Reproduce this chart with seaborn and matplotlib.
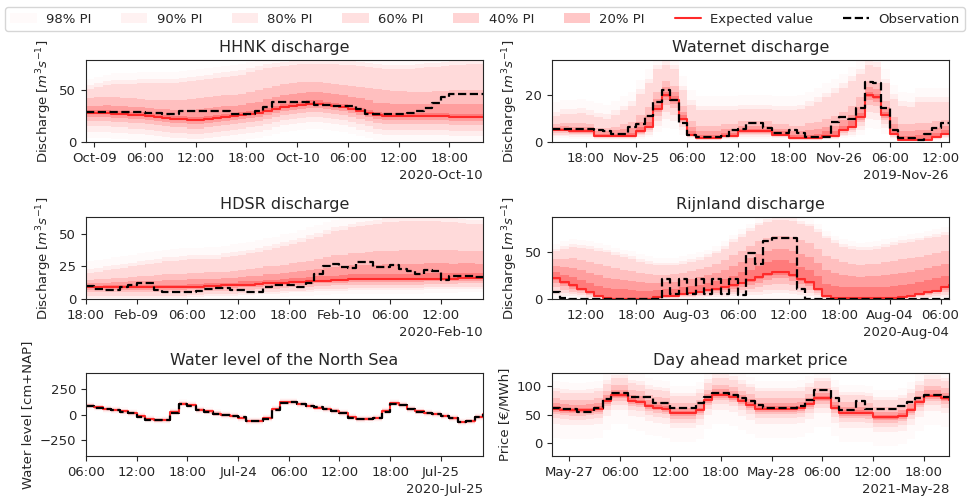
import matplotlib
matplotlib.use("Agg")
import matplotlib.pyplot as plt
import matplotlib.dates as mdates
import pandas as pd
import seaborn as sns

sns.set_style("ticks")
plt.rcParams['font.family'] = ['DejaVu Sans']

# =========================================================================
# DATI (un valore per ora)
# =========================================================================
PI_LABELS = ['98% PI', '90% PI', '80% PI', '60% PI', '40% PI', '20% PI']
PI_ALPHAS = [0.02, 0.05, 0.08, 0.12, 0.17, 0.22]

# --- HHNK discharge
hhnk_start = '2020-10-08 23:00'
hhnk_obs = [29,29,29,29,29,29,29,28,28,27,27,30,30,30,30,30,30,27,27,27,30,34,39,39,39,39,39,36,36,35,35,35,32,27,27,27,27,27,28,30,33,38,43,46,46,46,46,46]
hhnk_mean = [28,28,28,27,27,26,26,25,24,23,22,22,21,21,22,23,24,25,26,27,28,30,32,34,35,36,37,37,36,35,34,32,30,28,26,25,25,25,25,25,25,25,25,24,24,24,24,24]
hhnk_hi = [
    [61,63,65,66,66,66,67,67,67,67,67,68,69,70,71,72,73,74,75,77,79,81,82,83,84,85,85,85,85,85,84,84,83,82,81,80,80,80,80,81,82,82,83,84,84,85,85,85],
    [55,57,59,60,60,60,61,61,61,61,61,62,63,64,65,66,67,68,69,71,73,75,76,77,78,79,79,79,79,79,78,78,77,76,75,74,74,74,74,75,76,76,77,78,78,79,79,79],
    [51,53,55,56,56,56,57,57,57,57,57,58,59,60,61,62,63,64,65,67,69,71,72,73,74,75,75,75,75,75,74,74,73,72,71,70,70,70,70,71,72,72,73,74,74,75,75,75],
    [42,43,43,43,42,42,41,40,40,40,40,40,41,42,43,44,45,45,46,48,50,52,54,56,57,58,58,58,57,56,55,54,53,52,51,50,49,49,48,48,48,49,49,50,50,50,50,50],
    [35,35,36,35,35,34,34,33,32,32,31,31,31,32,33,34,35,35,36,38,39,41,43,45,46,47,48,48,47,46,45,43,42,40,38,38,37,37,37,37,37,37,37,37,37,37,37,37],
    [31,31,31,30,30,29,29,28,27,26,25,25,24,24,25,26,27,28,29,30,31,33,35,37,38,39,40,40,39,38,37,35,33,31,29,28,28,28,28,28,28,28,28,27,27,27,27,27],
]
hhnk_lo = [
    [4,4,4,3,3,2,2,1,0,0,0,0,0,0,0,0,0,1,2,3,4,6,8,10,11,12,13,13,12,11,10,8,6,4,2,1,1,1,1,1,1,1,1,0,0,0,0,0],
    [10,10,10,9,9,8,8,7,6,5,4,4,3,3,4,5,6,7,8,9,10,12,14,16,17,18,19,19,18,17,16,14,12,10,8,7,7,7,7,7,7,7,7,6,6,6,6,6],
    [15,15,15,14,14,13,13,12,11,10,9,9,8,8,9,10,11,12,13,14,15,17,19,21,22,23,24,24,23,22,21,19,17,15,13,12,12,12,12,12,12,12,12,11,11,11,11,11],
    [20,20,20,19,19,18,18,17,16,15,14,14,13,13,14,15,16,17,18,19,20,22,24,26,27,28,29,29,28,27,26,24,22,20,18,17,17,17,17,17,17,17,17,16,16,16,16,16],
    [24,24,24,23,23,22,22,21,20,19,18,18,17,17,18,19,20,21,22,23,24,26,28,30,31,32,33,33,32,31,30,28,26,24,22,21,21,21,21,21,21,21,21,20,20,20,20,20],
    [27,27,27,26,26,25,25,24,23,22,21,21,20,20,21,22,23,24,25,26,27,29,31,33,34,35,36,36,35,34,33,31,29,27,25,24,24,24,24,24,24,24,24,23,23,23,23,23],
]

# --- Waternet discharge
wat_start = '2019-11-24 14:00'
wat_obs = [5.5,5.5,5.5,5.5,5.5,5,4.5,3.5,3.5,6.5,7.5,11,17,22,18,8,3,2,2,2,2.5,5,5.5,8,8,6,4,4,5,4,2,2,2,8.5,10.5,10,14.5,25.5,25,14.5,5,1.5,1.5,1,3.5,6,8,8]
wat_mean = [5,5,4.5,4.5,4.5,2.5,2.5,2.5,2.5,2.5,4.5,6.5,14,20,18,10,3,1.5,1.5,1.5,2.5,2.5,4.5,4.5,4.5,4.5,3,3,1.5,1.5,1.5,1.5,2.5,2.5,5,6.5,10.5,20,19,11.5,3.5,1,1,1,1,2,3.5,3.5]
wat_hi = [
    [17,18,18,18.5,17.5,16.5,16,17.5,19.5,21.5,26.5,31,37,39,37,28,22,19.5,19.5,19.5,19.5,19.5,20,20,20,20,19.5,19.5,19.5,20,21.5,23,25,27,29,32,35,39,38,31,24.5,21.5,21,23,23,23,23,23],
    [13,14,14,14.5,13.5,12.5,12,13.5,15.5,17.5,22.5,27,33,35,33,24,18,15.5,15.5,15.5,15.5,15.5,16,16,16,16,15.5,15.5,15.5,16,17.5,19,21,23,25,28,31,35,34,27,20.5,17.5,17,19,19,19,19,19],
    [11,12,12,12.5,11.5,10.5,10,11.5,13.5,15.5,20.5,25,31,33,31,22,16,13.5,13.5,13.5,13.5,13.5,14,14,14,14,13.5,13.5,13.5,14,15.5,17,19,21,23,26,29,33,32,25,18.5,15.5,15,17,17,17,17,17],
    [7.5,8,8,8,7.5,6,6,6.5,7.5,8.5,11.5,15,21.5,26,24,15.5,9,7,7,7,7.5,7.5,9,9,9,9,7.5,7.5,7,7,8,8.5,10,11,13,15.5,19,26,25,17.5,10.5,7.5,7.5,8,8,9,9.5,9.5],
    [6.5,7,6.5,6.5,6.5,4.5,4.5,5,5.5,6,8.5,11,18.5,23.5,21.5,13,6.5,4.5,4.5,4.5,5.5,5.5,7,7,7,7,5.5,5.5,4.5,4.5,5,5.5,6.5,7,9.5,11.5,15,23.5,22.5,15,7.5,4.5,4.5,5,5,6,7,7],
    [5.5,6,5.5,5.5,5.5,3.5,3.5,3.5,4,4,6.5,8.5,16,21.5,19.5,11.5,4.5,3,3,3,4,4,5.5,5.5,5.5,5.5,4.5,4.5,3,3,3,3.5,4.5,4.5,7,9,12.5,21.5,20.5,13,5.5,2.5,2.5,3,3,4,5,5],
]
wat_lo = [
    [1.5,1.5,1.3,1.3,1.3,0.8,0.8,0.8,0.8,0.8,1.3,2,4.2,6,5.4,3,0.9,0.5,0.5,0.5,0.8,0.8,1.3,1.3,1.3,1.3,0.9,0.9,0.5,0.5,0.5,0.5,0.8,0.8,1.5,2,3.2,6,5.7,3.5,1,0.3,0.3,0.3,0.3,0.6,1,1],
    [2.5,2.5,2.2,2.2,2.2,1.2,1.2,1.2,1.2,1.2,2.2,3.2,7,10,9,5,1.5,0.8,0.8,0.8,1.2,1.2,2.2,2.2,2.2,2.2,1.5,1.5,0.8,0.8,0.8,0.8,1.2,1.2,2.5,3.2,5.2,10,9.5,5.8,1.8,0.5,0.5,0.5,0.5,1,1.8,1.8],
    [3.2,3.2,2.9,2.9,2.9,1.6,1.6,1.6,1.6,1.6,2.9,4.2,9.1,13,11.7,6.5,2,1,1,1,1.6,1.6,2.9,2.9,2.9,2.9,2,2,1,1,1,1,1.6,1.6,3.2,4.2,6.8,13,12.4,7.5,2.3,0.6,0.6,0.6,0.6,1.3,2.3,2.3],
    [4,4,3.6,3.6,3.6,2,2,2,2,2,3.6,5.2,11.2,16,14.4,8,2.4,1.2,1.2,1.2,2,2,3.6,3.6,3.6,3.6,2.4,2.4,1.2,1.2,1.2,1.2,2,2,4,5.2,8.4,16,15.2,9.2,2.8,0.8,0.8,0.8,0.8,1.6,2.8,2.8],
    [4.5,4.5,4,4,4,2.2,2.2,2.2,2.2,2.2,4,5.8,12.6,18,16.2,9,2.7,1.3,1.3,1.3,2.2,2.2,4,4,4,4,2.7,2.7,1.3,1.3,1.3,1.3,2.2,2.2,4.5,5.8,9.4,18,17.1,10.3,3.1,0.9,0.9,0.9,0.9,1.8,3.1,3.1],
    [4.8,4.8,4.4,4.4,4.4,2.4,2.4,2.4,2.4,2.4,4.4,6.3,13.6,19.4,17.5,9.7,2.9,1.5,1.5,1.5,2.4,2.4,4.4,4.4,4.4,4.4,2.9,2.9,1.5,1.5,1.5,1.5,2.4,2.4,4.8,6.3,10.2,19.4,18.4,11.2,3.4,1,1,1,1,1.9,3.4,3.4],
]

# --- HDSR discharge
hdsr_start = '2020-02-08 18:00'
hdsr_obs = [10,8,7,7,9,11,12,12,7,5.5,5.5,5.5,5.5,6.5,7.5,8.5,8.5,7,7,5.5,5.5,9.5,11,11,10.5,9.5,12,19.5,25.5,27,24.5,23.5,28.5,28.5,24.5,24.5,26,23,21.5,19.5,22,21.5,14.5,18,18,18,17,17]
hdsr_mean = [9,9,9,9,9,9,9,9,9,9,9,9,9.5,9.5,10,10,10.5,10.5,11,11,11.5,12,12,12.5,13,13,13.5,14,14,14.5,14.5,15,15,15,15,15,15,15,15,15,15.5,15.5,15.5,15.5,16,16,16,16]
hdsr_hi = [
    [29,30,31,32,33,34,35,36,37,38,38.5,39,39.5,39.5,40,40,41,42,43,44,45,47,48,50,51,53,55,57,59,61,62,64,65,66,67,68,68.5,69,69,69,69,69,68.5,68,67.5,67,66.5,66],
    [23,24,25,26,27,28,29,30,31,32,32.5,33,33.5,33.5,34,34,35,36,37,38,39,41,42,44,45,47,49,51,53,55,56,58,59,60,61,62,62.5,63,63,63,63,63,62.5,62,61.5,61,60.5,60],
    [20,21,22,23,24,25,26,27,28,29,29.5,30,30.5,30.5,31,31,32,33,34,35,36,38,39,41,42,44,46,48,50,52,53,55,56,57,58,59,59.5,60,60,60,60,60,59.5,59,58.5,58,57.5,57],
    [14.5,15,15.5,16,16.5,17,17.5,18,18.5,19,19.5,19.5,20,20,20.5,20.5,21,21.5,22.5,23,23.5,25,25.5,26.5,27.5,28.5,29.5,31,32,33.5,34,35,35.5,36,36.5,37,37,37.5,37.5,37.5,37.5,37.5,37.5,37.5,37,37,37,36.5],
    [12,12,12.5,13,13,13.5,13.5,14,14,14.5,14.5,14.5,15,15,15.5,15.5,16.5,16.5,17,17.5,18,19,19.5,20,21,21.5,22.5,23,23.5,24.5,25,26,26,26.5,26.5,27,27,27,27,27,27.5,27.5,27.5,27,27.5,27.5,27,27],
    [10,10,10.5,10.5,10.5,10.5,10.5,11,11,11,11,11,11.5,11.5,12,12,12.5,12.5,13.5,13.5,14,14.5,14.5,15.5,16,16,17,17.5,17.5,18,18.5,19,19,19,19.5,19.5,19.5,19.5,19.5,19.5,20,20,20,20,20,20,20,20],
]
hdsr_lo = [
    [0,0,0,0,0,0,0,0,0,0,0,0,0,0,0,0,0,0,0,0,0.5,1,1,1.5,2,2,2.5,3,3,3.5,3.5,4,4,4,4,4,4,4,4,4,4.5,4.5,4.5,4.5,5,5,5,5],
    [1,1,1,1,1,1,1,1,1,1,1,1,1.5,1.5,2,2,2.5,2.5,3,3,3.5,4,4,4.5,5,5,5.5,6,6,6.5,6.5,7,7,7,7,7,7,7,7,7,7.5,7.5,7.5,7.5,8,8,8,8],
    [2.5,2.5,2.5,2.5,2.5,2.5,2.5,2.5,2.5,2.5,2.5,2.5,3,3,3.5,3.5,4,4,4.5,4.5,5,5.5,5.5,6,6.5,6.5,7,7.5,7.5,8,8,8.5,8.5,8.5,8.5,8.5,8.5,8.5,8.5,8.5,9,9,9,9,9.5,9.5,9.5,9.5],
    [5,5,5,5,5,5,5,5,5,5,5,5,5.5,5.5,6,6,6.5,6.5,7,7,7.5,8,8,8.5,9,9,9.5,10,10,10.5,10.5,11,11,11,11,11,11,11,11,11,11.5,11.5,11.5,11.5,12,12,12,12],
    [7,7,7,7,7,7,7,7,7,7,7,7,7.5,7.5,8,8,8.5,8.5,9,9,9.5,10,10,10.5,11,11,11.5,12,12,12.5,12.5,13,13,13,13,13,13,13,13,13,13.5,13.5,13.5,13.5,14,14,14,14],
    [8.5,8.5,8.5,8.5,8.5,8.5,8.5,8.5,8.5,8.5,8.5,8.5,9,9,9.5,9.5,10,10,10.5,10.5,11,11.5,11.5,12,12.5,12.5,13,13.5,13.5,14,14,14.5,14.5,14.5,14.5,14.5,14.5,14.5,14.5,14.5,15,15,15,15,15.5,15.5,15.5,15.5],
]

# --- Rijnland discharge
rijn_start = '2020-08-02 08:00'
rijn_obs = [7,1,0,0,0,0,0,0,0,0,0,0,0,21,5,21,5,21,5,21,5,21,4,49,38,62,66,66,66,11,0,0,0,0,0,0,0,0,0,0,0,0,0,0,0,0,0,0]
rijn_mean = [22.5,18,14.5,11,7,3.5,1,0.5,0.5,0.5,0.5,0.5,2,3,3.5,5,6.5,8,9.5,11,12.5,14.5,17.5,20,23.5,27,29,29,26,21.5,18,11,3,1,1,1,1,1,1,1,1,2,3.5,5,7,9,12.5,15]
rijn_hi = [
    [59,62,64,63,62,60,58,55,53,51,48,46,44,44,44,46,48,50,53,57,62,69,75,81,87,91,93,93,92,89,86,80,73,68,64,62,60.5,61,62,64,66,68,69.5,71,73,75,77,80.5],
    [54,57,59,58,57,55,53,50,48,46,43,41,39,39,39,41,43,45,48,52,57,64,70,76,82,86,88,88,87,84,81,75,68,63,59,57,55.5,56,57,59,61,63,64.5,66,68,70,72,75.5],
    [51,54,56,55,54,52,50,47,45,43,40,38,36,36,36,38,40,42,45,49,54,61,67,73,79,83,85,85,84,81,78,72,65,60,56,54,52.5,53,54,56,58,60,61.5,63,65,67,69,72.5],
    [42.5,43,43.5,42,40,37.5,35.5,33,31.5,30.5,28,27,26,26,26.5,28,30,32,34.5,37.5,41.5,47,52,57,62.5,66,68,68,66.5,63,60,53.5,46.5,42.5,39.5,38,37,37.5,38,39.5,41,42.5,44,45.5,47.5,49.5,52,55.5],
    [35.5,34,33,31,28,25.5,23,21.5,20.5,19.5,18.5,17.5,17.5,18,18,20,21.5,23.5,25.5,28,31,35.5,40,44,48.5,52,54,54,52,48.5,45,38.5,31,27.5,26,25,24,24.5,25,26,26.5,28,29.5,31,33,35,38,41],
    [29,26,23.5,20.5,17.5,14,12,10.5,10.5,10,9,9,9.5,10.5,10.5,12.5,14,15.5,17.5,19.5,21.5,24.5,28.5,31.5,35.5,39.5,41.5,41.5,39,34.5,31,24.5,16.5,14,13,12.5,12.5,12.5,12.5,13,13.5,15,16.5,18,20,22,25,27.5],
]
rijn_lo = [
    [0,0,0,0,0,0,0,0,0,0,0,0,0,0,0,0,0,0,0,0,0,0,0,0,0,0,0,0,0,0,0,0,0,0,0,0,0,0,0,0,0,0,0,0,0,0,0,0],
    [4.5,3.5,3,2,1.5,0.5,0,0,0,0,0,0,0.5,0.5,0.5,1,1.5,1.5,2,2,2.5,3,3.5,4,4.5,5.5,6,6,5,4.5,3.5,2,0.5,0,0,0,0,0,0,0,0,0.5,0.5,1,1.5,2,2.5,3],
    [8,6.5,5,4,2.5,1,0.5,0,0,0,0,0,0.5,1,1,2,2.5,3,3.5,4,4.5,5,6,7,8,9.5,10,10,9,7.5,6.5,4,1,0.5,0.5,0.5,0.5,0.5,0.5,0.5,0.5,0.5,1,2,2.5,3,4.5,5.5],
    [12.5,10,8,6,4,2,0.5,0.5,0.5,0.5,0.5,0.5,1,1.5,2,3,3.5,4.5,5,6,7,8,9.5,11,13,15,16,16,14.5,12,10,6,1.5,0.5,0.5,0.5,0.5,0.5,0.5,0.5,0.5,1,2,3,4,5,7,8.5],
    [17,13.5,11,8.5,5.5,2.5,1,0.5,0.5,0.5,0.5,0.5,1.5,2.5,2.5,4,5,6,7,8.5,9.5,11,13,15,17.5,20.5,22,22,19.5,16,13.5,8.5,2.5,1,1,1,1,1,1,1,1,1.5,2.5,4,5.5,7,9.5,11.5],
    [20.5,16,13,10,6.5,3,1,0.5,0.5,0.5,0.5,0.5,2,2.5,3,4.5,6,7,8.5,10,11.5,13,16,18,21,24.5,26,26,23.5,19.5,16,10,2.5,1,1,1,1,1,1,1,1,2,3,4.5,6.5,8,11.5,13.5],
]

# --- Water level of the North Sea
ns_start = '2020-07-23 06:00'
ns_obs = [85,70,55,45,30,15,-20,-50,-55,-55,20,105,90,45,30,10,0,-10,-25,-60,-60,-40,50,120,128,110,85,72,56,40,22,-30,-38,-38,-35,30,110,92,55,30,20,7,-10,-30,-70,-65,-25,5]
ns_mean = [90,72,58,45,32,15,-15,-45,-55,-50,30,110,95,50,32,12,0,-12,-30,-60,-60,-35,55,122,125,108,85,70,55,40,20,-25,-40,-38,-30,40,112,95,55,32,18,5,-12,-35,-70,-65,-20,10]
ns_hi = [
    [130,112,98,85,72,55,25,-5,-15,-10,70,150,135,90,72,52,40,28,10,-20,-20,5,95,162,165,148,125,110,95,80,60,15,0,2,10,80,152,135,95,72,58,45,28,5,-30,-25,20,50],
    [118,100,86,73,60,43,13,-17,-27,-22,58,138,123,78,60,40,28,16,-2,-32,-32,-7,83,150,153,136,113,98,83,68,48,3,-12,-10,-2,68,140,123,83,60,46,33,16,-7,-42,-37,8,38],
    [110,92,78,65,52,35,5,-25,-35,-30,50,130,115,70,52,32,20,8,-10,-40,-40,-15,75,142,145,128,105,90,75,60,40,-5,-20,-18,-10,60,132,115,75,52,38,25,8,-15,-50,-45,0,30],
    [102,84,70,57,44,27,-3,-33,-43,-38,42,122,107,62,44,24,12,0,-18,-48,-48,-23,67,134,137,120,97,82,67,52,32,-13,-28,-26,-18,52,124,107,67,44,30,17,0,-23,-58,-53,-8,22],
    [97,79,65,52,39,22,-8,-38,-48,-43,37,117,102,57,39,19,7,-5,-23,-53,-53,-28,62,129,132,115,92,77,62,47,27,-18,-33,-31,-23,47,119,102,62,39,25,12,-5,-28,-63,-58,-13,17],
    [93,75,61,48,35,18,-12,-42,-52,-47,33,113,98,53,35,15,3,-9,-27,-57,-57,-32,58,125,128,111,88,73,58,43,23,-22,-37,-35,-27,43,115,98,58,35,21,8,-9,-32,-67,-62,-17,13],
]
ns_lo = [
    [50,32,18,5,-8,-25,-55,-85,-95,-90,-10,70,55,10,-8,-28,-40,-52,-70,-100,-100,-75,15,82,85,68,45,30,15,0,-20,-65,-80,-78,-70,0,72,55,15,-8,-22,-35,-52,-75,-110,-105,-60,-30],
    [62,44,30,17,4,-13,-43,-73,-83,-78,2,82,67,22,4,-16,-28,-40,-58,-88,-88,-63,27,94,97,80,57,42,27,12,-8,-53,-68,-66,-58,12,84,67,27,4,-10,-23,-40,-63,-98,-93,-48,-18],
    [70,52,38,25,12,-5,-35,-65,-75,-70,10,90,75,30,12,-8,-20,-32,-50,-80,-80,-55,35,102,105,88,65,50,35,20,0,-45,-60,-58,-50,20,92,75,35,12,-2,-15,-32,-55,-90,-85,-40,-10],
    [78,60,46,33,20,3,-27,-57,-67,-62,18,98,83,38,20,0,-12,-24,-42,-72,-72,-47,43,110,113,96,73,58,43,28,8,-37,-52,-50,-42,28,100,83,43,20,6,-7,-24,-47,-82,-77,-32,-2],
    [83,65,51,38,25,8,-22,-52,-62,-57,23,103,88,43,25,5,-7,-19,-37,-67,-67,-42,48,115,118,101,78,63,48,33,13,-32,-47,-45,-37,33,105,88,48,25,11,-2,-19,-42,-77,-72,-27,3],
    [87,69,55,42,29,12,-18,-48,-58,-53,27,107,92,47,29,9,-3,-15,-33,-63,-63,-38,52,119,122,105,82,67,52,37,17,-28,-43,-41,-33,37,109,92,52,29,15,2,-15,-38,-73,-68,-23,7],
]

# --- Day ahead market price
da_start = '2021-05-26 22:00'
da_obs = [61,59,59,54,54,61,77,87,87,80,80,80,70,70,61,61,61,70,80,87,88,84,78,73,67,62,62,62,62,64,75,93,93,78,57,57,74,60,60,60,60,64,72,78,84,84,80,80]
da_mean = [60,58,57,57,58,60,73,83,83,74,72,65,62,60,52,52,52,58,75,84,84,80,73,67,60,60,60,60,60,61,68,78,78,62,53,53,53,52,45,45,45,48,58,72,82,82,78,75]
da_hi = [
    [108,106,105,105,106,108,121,131,131,122,120,113,110,108,100,100,100,106,123,132,132,128,121,115,108,108,108,108,108,109,116,126,126,110,101,101,101,100,93,93,93,96,106,120,130,130,126,123],
    [96,94,93,93,94,96,109,119,119,110,108,101,98,96,88,88,88,94,111,120,120,116,109,103,96,96,96,96,96,97,104,114,114,98,89,89,89,88,81,81,81,84,94,108,118,118,114,111],
    [90,88,87,87,88,90,103,113,113,104,102,95,92,90,82,82,82,88,105,114,114,110,103,97,90,90,90,90,90,91,98,108,108,92,83,83,83,82,75,75,75,78,88,102,112,112,108,105],
    [78,76,75,75,76,78,91,101,101,92,90,83,80,78,70,70,70,76,93,102,102,98,91,85,78,78,78,78,78,79,86,96,96,80,71,71,71,70,63,63,63,66,76,90,100,100,96,93],
    [70,68,67,67,68,70,83,93,93,84,82,75,72,70,62,62,62,68,85,94,94,90,83,77,70,70,70,70,70,71,78,88,88,72,63,63,63,62,55,55,55,58,68,82,92,92,88,85],
    [64,62,61,61,62,64,77,87,87,78,76,69,66,64,56,56,56,62,79,88,88,84,77,71,64,64,64,64,64,65,72,82,82,66,57,57,57,56,49,49,49,52,62,76,86,86,82,79],
]
da_lo = [
    [10,8,7,7,8,10,23,33,33,24,22,15,12,10,2,2,2,8,25,34,34,30,23,17,10,10,10,10,10,11,18,28,28,12,3,3,3,2,-5,-5,-5,-2,8,22,32,32,28,25],
    [34,32,31,31,32,34,47,57,57,48,46,39,36,34,26,26,26,32,49,58,58,54,47,41,34,34,34,34,34,35,42,52,52,36,27,27,27,26,19,19,19,22,32,46,56,56,52,49],
    [44,42,41,41,42,44,57,67,67,58,56,49,46,44,36,36,36,42,59,68,68,64,57,51,44,44,44,44,44,45,52,62,62,46,37,37,37,36,29,29,29,32,42,56,66,66,62,59],
    [51,49,48,48,49,51,64,74,74,65,63,56,53,51,43,43,43,49,66,75,75,71,64,58,51,51,51,51,51,52,59,69,69,53,44,44,44,43,36,36,36,39,49,63,73,73,69,66],
    [55,53,52,52,53,55,68,78,78,69,67,60,57,55,47,47,47,53,70,79,79,75,68,62,55,55,55,55,55,56,63,73,73,57,48,48,48,47,40,40,40,43,53,67,77,77,73,70],
    [58,56,55,55,56,58,71,81,81,72,70,63,60,58,50,50,50,56,73,82,82,78,71,65,58,58,58,58,58,59,66,76,76,60,51,51,51,50,43,43,43,46,56,70,80,80,76,73],
]

Q_LABEL = r'Discharge [$m^3s^{-1}$]'

# (riga, colonna, titolo, etichetta y, inizio, oss, media, sup, inf, ylim, yticks)
pannelli = [
    (0, 0, 'HHNK discharge', Q_LABEL, hhnk_start, hhnk_obs, hhnk_mean, hhnk_hi, hhnk_lo, (0, 79), [0, 50]),
    (0, 1, 'Waternet discharge', Q_LABEL, wat_start, wat_obs, wat_mean, wat_hi, wat_lo, (0, 35), [0, 20]),
    (1, 0, 'HDSR discharge', Q_LABEL, hdsr_start, hdsr_obs, hdsr_mean, hdsr_hi, hdsr_lo, (0, 63), [0, 25, 50]),
    (1, 1, 'Rijnland discharge', Q_LABEL, rijn_start, rijn_obs, rijn_mean, rijn_hi, rijn_lo, (0, 88), [0, 50]),
    (2, 0, 'Water level of the North Sea', 'Water level [cm+NAP]', ns_start, ns_obs, ns_mean, ns_hi, ns_lo, (-405, 410), [-250, 0, 250]),
    (2, 1, 'Day ahead market price', 'Price [€/MWh]', da_start, da_obs, da_mean, da_hi, da_lo, (-22, 122), [0, 50, 100]),
]

# posizioni degli assi in pixel (sinistra, alto, destra, basso) su 969x496
W, H = 969, 496
col_x = [(86, 483), (552, 949)]
row_y = [(60, 142), (217, 299), (373, 456)]

fig, axes = plt.subplots(3, 2, figsize=(9.69, 4.96), dpi=100)

handles = None
for r, c, titolo, ylab, start, obs, mean, hi, lo, ylim, yt in pannelli:
    ax = axes[r, c]
    t = pd.date_range(start, periods=len(obs), freq='h')

    fills = []
    for k in range(len(PI_LABELS)):
        f = ax.fill_between(t, lo[k], hi[k], step='post', color='red', alpha=PI_ALPHAS[k],
                            linewidth=0, label=PI_LABELS[k])
        fills.append(f)

    sns.lineplot(x=t, y=mean, ax=ax, color='#ff2a2a', linewidth=1.5,
                 drawstyle='steps-post', legend=False)
    sns.lineplot(x=t, y=obs, ax=ax, color='black', linewidth=1.6, linestyle='--',
                 drawstyle='steps-post', legend=False)

    if handles is None:
        handles = fills + [ax.lines[0], ax.lines[1]]

    loc = mdates.HourLocator(byhour=[0, 6, 12, 18])
    fmt = mdates.ConciseDateFormatter(
        loc,
        formats=['%Y', '%b', '%b-%d', '%H:%M', '%H:%M', '%S.%f'],
        zero_formats=['', '%Y', '%b', '%b-%d', '%H:%M', '%H:%M'],
        offset_formats=['', '%Y', '%Y-%b', '%Y-%b-%d', '%Y-%b-%d', '%Y-%b-%d %H:%M'])
    ax.xaxis.set_major_locator(loc)
    ax.xaxis.set_major_formatter(fmt)
    ax.set_xlim(t[0], t[-1])
    ax.set_ylim(*ylim)
    ax.set_yticks(yt)
    ax.tick_params(labelsize=9.5)
    ax.xaxis.get_offset_text().set_fontsize(9.5)
    ax.set_title(titolo, fontsize=11.5)
    ax.set_ylabel(ylab, fontsize=9.5)
    ax.set_xlabel('')

    x0, x1 = col_x[c]
    y0, y1 = row_y[r]
    ax.set_position([x0 / W, 1 - y1 / H, (x1 - x0) / W, (y1 - y0) / H])

etichette = PI_LABELS + ['Expected value', 'Observation']
fig.legend(handles, etichette, loc='upper left', ncol=8, mode='expand',
           bbox_to_anchor=(5 / W, 0.935, 960 / W, 0.05), fontsize=9.5,
           handlelength=2.0, handletextpad=0.7, columnspacing=2.0, borderaxespad=0)

fig.savefig('out.png', dpi=100)
